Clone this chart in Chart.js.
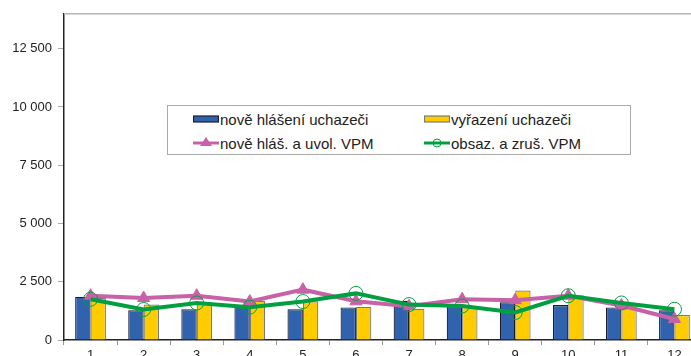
<!DOCTYPE html>
<html>
<head>
<meta charset="utf-8">
<script src="https://cdn.jsdelivr.net/npm/chart.js@4/dist/chart.umd.min.js"></script>
<style>
  body { margin: 0; overflow: hidden; background: #fff; }
  #wrap { position: relative; width: 709px; height: 380px; }
  #legend {
    position: absolute; left: 167px; top: 105px; width: 462px; height: 48px;
    border: 1px solid #aaa; background: #fff;
    font: 15px "Liberation Sans", Arial, sans-serif; color: #222;
  }
  .item { position: absolute; display: flex; align-items: center; height: 20px; white-space: nowrap; }
  .item svg { margin-right: 1px; }
</style>
</head>
<body>
<div id="wrap">
  <canvas id="chart" width="709" height="380"></canvas>
  <div id="legend"></div>
</div>
<script>
// months of the year
const months = ['1', '2', '3', '4', '5', '6', '7', '8', '9', '10', '11', '12'];

// job seekers: newly registered / removed from register
const noveHlaseni = [1850, 1280, 1320, 1420, 1320, 1400, 1680, 1450, 1620, 1500, 1400, 1280];
const vyrazeni = [1800, 1520, 1560, 1680, 1660, 1420, 1340, 1450, 2120, 1920, 1600, 1070];

// vacancies: newly reported + released / filled + cancelled
const noveVpm = [1900, 1800, 1900, 1650, 2160, 1660, 1450, 1750, 1710, 1900, 1480, 900];
const obsazVpm = [1750, 1310, 1590, 1410, 1650, 2000, 1520, 1460, 1180, 1900, 1590, 1320];

const yTicks = [0, 2500, 5000, 7500, 10000, 12500];

const FONT = '"Liberation Sans", Arial, sans-serif';
const BLUE = '#3162ae', BLUE_EDGE = '#1c1c2c';
const YELLOW = '#ffcc00', YELLOW_EDGE = '#7a7a7a';
const PINK = '#c862a8', GREEN = '#00a040';

const numFmt = v => String(v).replace(/\B(?=(\d{3})+(?!\d))/g, ' ');

// thin grey line along the top of the plot area
const topLine = {
  id: 'topLine',
  afterDraw(chart) {
    const { ctx, chartArea: a } = chart;
    ctx.save();
    ctx.strokeStyle = '#b4b4b4';
    ctx.lineWidth = 1.5;
    ctx.beginPath();
    ctx.moveTo(a.left, a.top);
    ctx.lineTo(a.right, a.top);
    ctx.stroke();
    ctx.restore();
  }
};

const chart = new Chart(document.getElementById('chart'), {
  type: 'bar',
  data: {
    labels: months,
    datasets: [
      {
        label: 'nově hlášení uchazeči', data: noveHlaseni,
        backgroundColor: BLUE, borderColor: BLUE_EDGE, borderWidth: 1.2, order: 2
      },
      {
        label: 'vyřazení uchazeči', data: vyrazeni,
        backgroundColor: YELLOW, borderColor: YELLOW_EDGE, borderWidth: 1.2, order: 2
      },
      {
        type: 'line', label: 'nově hláš. a uvol. VPM', data: noveVpm,
        borderColor: PINK, borderWidth: 4, tension: 0,
        pointStyle: 'triangle', pointRadius: 7, pointBackgroundColor: PINK,
        pointBorderColor: PINK, pointBorderWidth: 1, order: 1
      },
      {
        type: 'line', label: 'obsaz. a zruš. VPM', data: obsazVpm,
        borderColor: GREEN, borderWidth: 4, tension: 0,
        pointStyle: 'circle', pointRadius: 7, pointBackgroundColor: 'rgba(0,0,0,0)',
        pointBorderColor: GREEN, pointBorderWidth: 1, order: 0
      }
    ]
  },
  options: {
    responsive: false,
    animation: false,
    layout: { padding: { top: 12, right: 1, left: 0, bottom: 0 } },
    datasets: { bar: { categoryPercentage: 0.58, barPercentage: 1 } },
    plugins: { legend: { display: false }, tooltip: { enabled: false } },
    scales: {
      x: {
        grid: { drawOnChartArea: false, tickLength: 5, color: '#999', offset: true },
        border: { color: '#222', width: 1.5 },
        ticks: { color: '#222', font: { size: 13, family: FONT }, padding: 3, maxRotation: 0 },
        afterFit(s) { s.height = 40; }
      },
      y: {
        min: 0, max: 14000,
        ticks: { stepSize: 2500, callback: numFmt, padding: 6, color: '#222', font: { size: 13, family: FONT } },
        afterBuildTicks(s) { s.ticks = yTicks.map(v => ({ value: v })); },
        grid: { drawOnChartArea: false, tickLength: 6, color: '#aaa' },
        border: { color: '#222', width: 1.5 },
        afterFit(s) { s.width = 64; }
      }
    }
  },
  plugins: [topLine]
});

// legend box, two columns, built from the dataset styles
const legendPos = [[25, 3], [256, 3], [25, 27], [256, 27]];
const legend = document.getElementById('legend');
chart.data.datasets.forEach((ds, i) => {
  let icon;
  if (ds.type === 'line') {
    const marker = ds.pointStyle === 'triangle'
      ? `<polygon points="13,4 19,13 7,13" fill="${ds.borderColor}"/>`
      : `<circle cx="13" cy="10" r="4" fill="none" stroke="${ds.borderColor}" stroke-width="1"/>`;
    icon = `<line x1="0" y1="10" x2="26" y2="10" stroke="${ds.borderColor}" stroke-width="3"/>${marker}`;
  } else {
    icon = `<rect x="0.5" y="7" width="25" height="6" fill="${ds.backgroundColor}" stroke="${ds.borderColor}" stroke-width="1.2"/>`;
  }
  const el = document.createElement('div');
  el.className = 'item';
  el.style.left = legendPos[i][0] + 'px';
  el.style.top = legendPos[i][1] + 'px';
  el.innerHTML = `<svg width="26" height="20">${icon}</svg><span>${ds.label}</span>`;
  legend.appendChild(el);
});
</script>
</body>
</html>
